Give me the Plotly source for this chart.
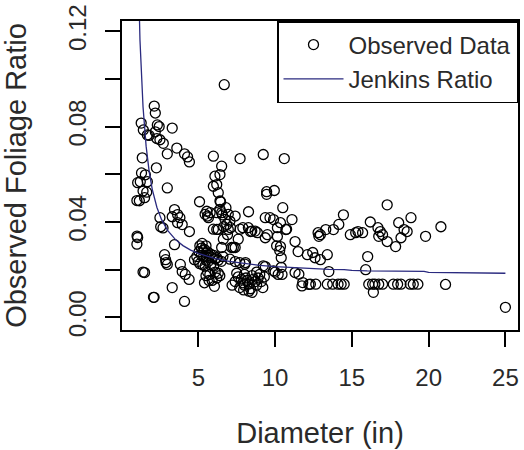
import plotly.graph_objects as go

# observed foliage ratio vs diameter
obs_diam = [
    1.01, 1.05, 1.0, 1.0, 1.05, 1.22, 1.3, 1.35, 1.28, 1.42, 1.4, 1.4, 1.5, 1.55, 1.68, 1.64, 1.68, 1.8, 1.16, 1.5,
    2.13, 2.2, 2.33, 2.45, 2.2, 2.3, 2.5, 2.72, 3.3, 2.98, 3.6, 4.1, 4.3, 4.42, 2.27, 2.98,
    2.5, 2.55, 2.7, 3.45, 3.65, 3.3, 3.8, 3.95, 3.65, 5.08, 4.42, 3.45, 2.8, 2.87, 2.98, 2.9, 3.83, 3.95, 4.15, 4.4,
    4.75, 3.3, 2.08, 2.12, 4.1,
    5.1, 5.2, 5.3, 5.4, 5.5, 5.6, 5.7, 5.8, 5.9, 6.0, 6.1, 6.2, 5.2, 5.35, 5.5, 5.65, 5.0, 5.1, 5.3, 5.45,
    5.8, 6.0, 6.3, 6.5, 5.6, 5.75, 6.1, 6.3, 6.4, 5.5, 5.4, 5.9, 6.05, 5.7, 6.2, 4.9, 5.05, 5.25, 5.5, 6.6,
    5.44, 5.66, 5.77, 5.98, 6.08, 5.98, 6.2, 6.41, 6.52, 6.3, 6.41, 6.41, 6.2, 6.52, 6.95, 6.74, 6.85, 7.06, 6.95,
    6.3, 6.63, 6.52, 7.17, 7.28, 7.4, 6.2, 5.98, 6.57, 6.8, 6.45, 6.9, 6.65, 7.1, 7.4, 6.69, 5.55, 5.6,
    7.72, 9.23, 10.6, 9.45, 9.45, 9.95, 8.27, 10.5, 9.36, 9.9, 10.35, 11.1, 10.15, 10.7, 7.9, 8.4, 8.85, 9.5, 9.36,
    10.15, 10.35, 11.3, 11.5, 7.72, 7.6, 8.26, 8.48, 8.7, 10.4, 10.3, 10.1, 10.75, 9.67,
    7.06, 7.7, 8.03, 9.23, 8.07, 7.4, 9.36, 10.4, 10.45, 10.0, 10.2, 11.3, 9.9, 11.55, 11.75, 11.8, 12.2,
    7.2, 7.4, 7.6, 7.8, 7.9, 8.0, 8.1, 8.2, 8.3, 8.4, 8.5, 8.6, 8.7, 8.8, 8.9, 9.0, 9.1, 8.3, 8.5, 9.2,
    7.5, 7.7, 8.8, 8.0, 9.3, 7.95,
    17.3, 14.45, 12.8, 12.95, 12.85, 13.3, 13.8, 14.15, 14.9, 15.25, 15.4, 15.7, 16.2, 16.7, 16.85, 17.0, 16.75,
    17.3, 17.85, 18.05, 18.4, 18.6, 18.2, 18.85, 19.8, 20.8, 12.1, 12.45, 12.6, 12.95, 13.4, 13.5, 16.03, 15.9,
    12.3, 12.65, 13.4, 13.75, 14.1, 14.3, 14.5, 16.1, 16.35, 16.5, 16.75, 17.0, 17.7, 17.98, 18.2, 18.8, 19.0,
    19.3, 16.4, 21.1, 25.0,
]
obs_ratio = [
    0.0341, 0.0335, 0.0307, 0.049, 0.0565, 0.0569, 0.0606, 0.0669, 0.0815, 0.0786, 0.053, 0.019, 0.0188, 0.0598,
    0.0569, 0.0525, 0.0765, 0.0763, 0.0489, 0.0502,
    0.0886, 0.0857, 0.0807, 0.08, 0.0778, 0.075, 0.0745, 0.073, 0.0794, 0.0686, 0.071, 0.0686, 0.0673, 0.0652,
    0.0627, 0.0543,
    0.0418, 0.038, 0.0375, 0.0452, 0.0431, 0.0422, 0.0418, 0.0389, 0.0397, 0.0485, 0.036, 0.0305, 0.0263, 0.0242,
    0.0222, 0.023, 0.0222, 0.0192, 0.018, 0.0159, 0.0242, 0.0125, 0.0084, 0.0084, 0.0067,
    0.030, 0.029, 0.028, 0.0285, 0.027, 0.0275, 0.026, 0.0265, 0.025, 0.026, 0.0245, 0.025, 0.026, 0.0255, 0.024,
    0.0235, 0.0235, 0.0225, 0.022, 0.0215, 0.022, 0.0215, 0.024, 0.0235, 0.019, 0.018, 0.019, 0.0185, 0.0175,
    0.0175, 0.0145, 0.0155, 0.013, 0.0155, 0.0165, 0.0255, 0.0275, 0.031, 0.030, 0.0255,
    0.0432, 0.0418, 0.0439, 0.0676, 0.0592, 0.055, 0.0557, 0.0599, 0.0634, 0.0523, 0.0488, 0.0453, 0.0439, 0.0439,
    0.0432, 0.0411, 0.039, 0.0404, 0.0369, 0.0369, 0.0328, 0.0293, 0.0293, 0.0293, 0.0425, 0.0369, 0.037, 0.043,
    0.046, 0.0485, 0.0347, 0.038, 0.0376, 0.0293, 0.0976, 0.0445, 0.0425,
    0.0666, 0.0683, 0.0666, 0.0527, 0.0516, 0.0532, 0.0443, 0.046, 0.0418, 0.041, 0.0397, 0.041, 0.0376, 0.0368,
    0.0376, 0.036, 0.0355, 0.0347, 0.0334, 0.0339, 0.0297, 0.0318, 0.0276, 0.037, 0.0328, 0.0376, 0.0362, 0.0362,
    0.025, 0.028, 0.030, 0.037, 0.0418,
    0.0244, 0.023, 0.0223, 0.0216, 0.023, 0.0234, 0.0213, 0.021, 0.018, 0.019, 0.018, 0.0188, 0.0195, 0.0181,
    0.0132, 0.0146, 0.0138,
    0.0135, 0.015, 0.017, 0.016, 0.0145, 0.018, 0.0165, 0.0155, 0.014, 0.012, 0.0175, 0.016, 0.015, 0.0135, 0.0165,
    0.018, 0.015, 0.011, 0.0105, 0.0125, 0.0185, 0.0125, 0.019, 0.0135, 0.017, 0.0115,
    0.0472, 0.043, 0.0355, 0.0347, 0.034, 0.0368, 0.0368, 0.039, 0.0347, 0.0355, 0.036, 0.0355, 0.04, 0.0376, 0.036,
    0.0347, 0.034, 0.0318, 0.0297, 0.0397, 0.0368, 0.036, 0.0334, 0.0418, 0.034, 0.038, 0.0263, 0.0272, 0.025,
    0.0242, 0.0263, 0.0192, 0.0255, 0.02,
    0.0139, 0.0139, 0.0139, 0.0139, 0.0139, 0.0139, 0.0139, 0.0139, 0.0139, 0.0139, 0.0139, 0.0139, 0.0139, 0.0139,
    0.0139, 0.0139, 0.0139, 0.0139, 0.0105, 0.0138, 0.0042,
]

# Jenkins ratio curve
jenkins_diam = [1.0, 1.1, 1.2, 1.4, 1.6, 1.8, 2.0, 2.3, 2.6, 3.0, 3.5, 4.0, 4.5, 5.0, 6.0, 7.0, 8.0, 9.0,
                10.0, 12.0, 13.5, 14.5, 15.0, 16.0, 19.7, 20.0, 25.0]
jenkins_ratio = [0.171, 0.1386, 0.1163, 0.0882, 0.0718, 0.0611, 0.0537, 0.0462, 0.0411, 0.0365, 0.0327, 0.0301,
                 0.0282, 0.0268, 0.0248, 0.0235, 0.0225, 0.0218, 0.0213, 0.0205, 0.0201, 0.0200, 0.0197, 0.0195,
                 0.0193, 0.0189, 0.0185]

y_ticks = [0.0, 0.02, 0.04, 0.06, 0.08, 0.10, 0.12]
y_labels = ["0.00", "", "0.04", "", "0.08", "", "0.12"]
x_ticks = [5, 10, 15, 20, 25]

FONT = "Liberation Sans, Arial, sans-serif"
TXT = "#2a2a2a"

fig = go.Figure()
fig.add_trace(go.Scatter(x=obs_diam, y=obs_ratio, mode="markers", name="Observed Data",
                         marker=dict(symbol="circle-open", size=10, color="black", line=dict(width=1.3, color="black"))))
fig.add_trace(go.Scatter(x=jenkins_diam, y=jenkins_ratio, mode="lines", name="Jenkins Ratio",
                         line=dict(color="#2a2a7f", width=1.3)))

fig.update_layout(
    width=524, height=450,
    margin=dict(l=122, r=6, t=21, b=120, autoexpand=False),
    paper_bgcolor="white", plot_bgcolor="white",
    font=dict(family=FONT, size=24, color=TXT),
    legend=dict(x=1, y=1, xanchor="right", yanchor="top", bordercolor="black", borderwidth=1.5,
                bgcolor="white", itemwidth=60, font=dict(size=24, color=TXT)),
    xaxis=dict(range=[0.03, 25.82], tickvals=x_ticks, ticks="outside", ticklen=15, tickwidth=1.5, tickcolor="black",
               showline=True, mirror=True, linecolor="black", linewidth=1.5, showgrid=False, zeroline=False,
               ticklabelstandoff=10, ticklabeloverflow="allow", automargin=False,
               title=dict(text="Diameter (in)", standoff=33)),
    yaxis=dict(range=[-0.0053, 0.1243], tickvals=y_ticks, ticktext=y_labels, tickangle=-90, ticks="outside",
               ticklen=15, tickwidth=1.5, tickcolor="black",
               showline=True, mirror=True, linecolor="black", linewidth=1.5, showgrid=False, zeroline=False,
               ticklabelstandoff=10, ticklabeloverflow="allow", automargin=False,
               title=dict(text="Observed Foliage Ratio", standoff=30)),
)

# drop the default 8px body margin so the figure fills the window exactly
fig.write_html("out.html", config={"displayModeBar": False},
               post_script="document.body.style.margin = '0';")
